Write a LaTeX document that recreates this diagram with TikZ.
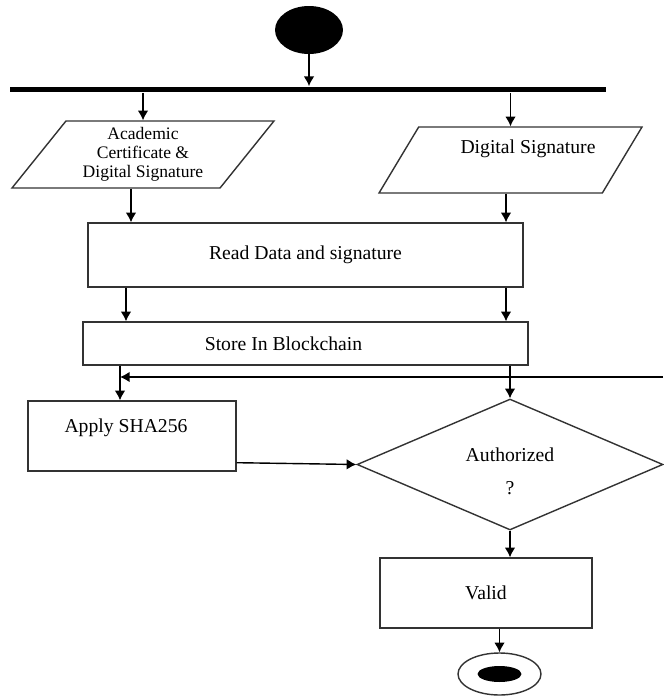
\documentclass[tikz,border=0pt]{standalone}
\usepackage{fontspec}
\setmainfont{Liberation Serif}
\usetikzlibrary{arrows.meta,shapes.geometric}

\begin{document}
\begin{tikzpicture}[x=0.02cm,y=-0.02cm,>={Latex[length=5.5pt,width=6pt]},
  every node/.style={font=\fontsize{11.2}{13}\selectfont},
  actbox/.style={draw=black!80,line width=0.8pt,rectangle,inner sep=0pt},
  iobox/.style={draw=black!80,line width=0.8pt,trapezium,trapezium left angle=45,
    trapezium right angle=135,trapezium stretches body,inner sep=0pt},
  decide/.style={draw=black!80,line width=0.8pt,diamond,inner sep=0pt,align=center},
  flow/.style={->,line width=0.8pt}]
\useasboundingbox (0,0) rectangle (663,696);

% Start and fork bar
\node[ellipse,fill=black,minimum width=1.36cm,minimum height=0.96cm,inner sep=0pt] (start) at (309,30) {};
\node[fill=black,minimum width=11.92cm,minimum height=0.12cm,inner sep=0pt] (fork) at (308,89.5) {};
\draw[flow] (start) -- (start |- fork.north);

% Inputs
\node[iobox,minimum width=5.24cm,minimum height=1.34cm,align=center,
  font=\fontsize{10}{10.8}\selectfont] (acad) at (143,154.5) {Academic\\Certificate \&\\Digital Signature};
\node[iobox,minimum width=5.26cm,minimum height=1.32cm] (dsig) at (510.5,160)
  {\hspace*{0.7cm}\raisebox{0.52cm}{Digital Signature}};
\draw[flow] (fork.south -| acad.north) -- (acad.north);
\draw[flow] (fork.south -| dsig.north) -- (dsig.north);

% Read and store
\node[actbox,minimum width=8.7cm,minimum height=1.28cm] (read) at (305.5,255) {Read Data and signature};
\node[actbox,minimum width=8.9cm,minimum height=0.86cm,
  label={[xshift=-0.44cm]center:Store In Blockchain}] (store) at (305.5,343.5) {};
\draw[flow] (131,0 |- acad.south) -- (131,0 |- read.north);
\draw[flow] (506,0 |- dsig.south) -- (506,0 |- read.north);
\draw[flow] (126,0 |- read.south) -- (126,0 |- store.north);
\draw[flow] (506,0 |- read.south) -- (506,0 |- store.north);

% Hash and check
\node[actbox,minimum width=4.16cm,minimum height=1.4cm,
  label={[xshift=-0.12cm,yshift=0.16cm]center:Apply SHA256}] (apply) at (132,436) {};
\node[decide,minimum width=6.12cm,minimum height=2.62cm,
  label={[align=center,yshift=-0.13cm]center:{Authorized\\[6pt]?}}] (auth) at (510,464.5) {};
\draw[flow] (120,0 |- store.south) -- (120,0 |- apply.north);
\draw[flow] (auth.north |- store.south) -- (auth.north);
\coordinate (back) at (663,377);
\draw[flow] (back) -- (back -| 120,0);
\draw[flow] ([yshift=0.18cm]apply.south east) -- (auth.west);

% Result and end
\node[actbox,minimum width=4.24cm,minimum height=1.4cm] (valid) at (486,593) {Valid};
\draw[flow] (auth.south) -- (auth.south |- valid.north);
\node[ellipse,draw=black!80,line width=0.8pt,minimum width=1.66cm,minimum height=0.84cm,inner sep=0pt] (finish) at (499.5,674) {};
\node[ellipse,fill=black,minimum width=0.88cm,minimum height=0.32cm,inner sep=0pt] (finishdot) at (finish) {};
\draw[flow] (finish.north |- valid.south) -- (finish.north);
\end{tikzpicture}
\end{document}
